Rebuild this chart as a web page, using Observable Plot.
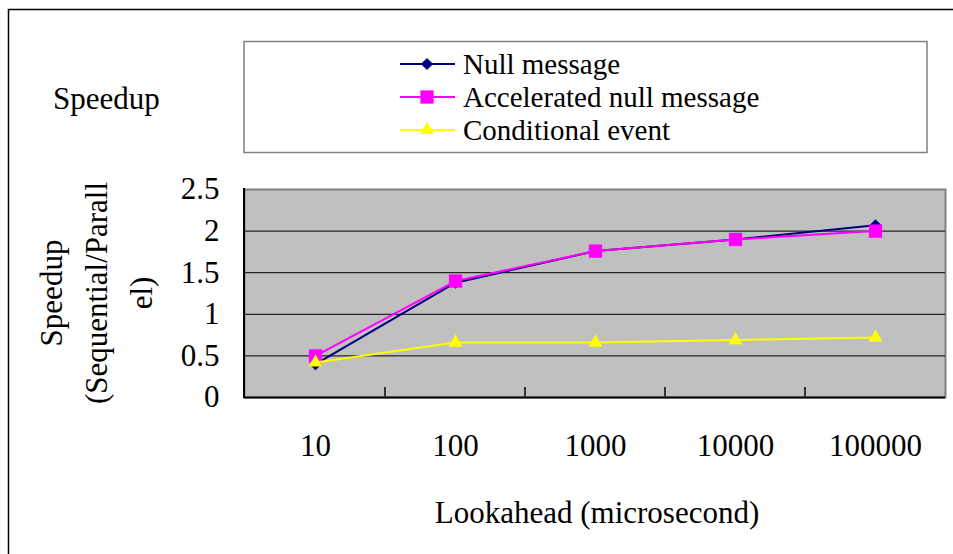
<!DOCTYPE html>
<html>
<head>
<meta charset="utf-8">
<script src="https://cdn.jsdelivr.net/npm/d3@7"></script>
<script src="https://cdn.jsdelivr.net/npm/@observablehq/plot@0.6"></script>
<style>
  body { margin: 0; background: #fff; }
  svg { display: block; }
</style>
</head>
<body>
<div id="chart"></div>
<script>
// Lookahead values (microseconds) shown on the category axis
const categories = ["10", "100", "1000", "10000", "100000"];

// Speedup (sequential / parallel) for each protocol
const nullMessage = [0.40, 1.38, 1.76, 1.90, 2.07];
const acceleratedNullMessage = [0.50, 1.40, 1.76, 1.90, 2.00];
const conditionalEvent = [0.42, 0.66, 0.66, 0.69, 0.72];

const seriesNames = ["Null message", "Accelerated null message", "Conditional event"];
const seriesValues = [nullMessage, acceleratedNullMessage, conditionalEvent];
const seriesColors = ["#000080", "#ff00ff", "#ffff00"];
const seriesSymbols = ["diamond2", "square", "triangle"];
const seriesSizes = [5.5, 7.5, 5.2];

const yTicks = [0, 0.5, 1, 1.5, 2, 2.5];

const chartTitle = "Speedup";
const yTitleLines = ["Speedup", "(Sequential/Parall", "el)"];
const xTitle = "Lookahead (microsecond)";

const FONT = "'Liberation Serif', 'Times New Roman', serif";
const FS = 31;
const LEGEND_FS = 29;

const rows = seriesNames.map((name, s) =>
  categories.map((c, i) => ({series: name, lookahead: c, speedup: seriesValues[s][i]}))
);

const seriesMarks = rows.flatMap((data, s) => [
  Plot.line(data, {x: "lookahead", y: "speedup", stroke: seriesColors[s], strokeWidth: 2}),
  Plot.dot(data, {x: "lookahead", y: "speedup", symbol: seriesSymbols[s], r: seriesSizes[s],
                  fill: seriesColors[s], stroke: "none"})
]);

const plot = Plot.plot({
  width: 953,
  height: 554,
  marginLeft: 244,
  marginRight: 8,
  marginTop: 189,
  marginBottom: 157,
  style: {fontFamily: FONT, fontSize: FS + "px", background: "white", color: "black", overflow: "visible"},
  x: {type: "point", domain: categories, padding: 0.5, label: null},
  y: {domain: [0, 2.5], label: null},
  marks: [
    Plot.frame({fill: "#c0c0c0", stroke: "#808080", strokeWidth: 2}),
    Plot.gridY(yTicks.slice(1, -1), {stroke: "#000", strokeOpacity: 1, strokeWidth: 1}),
    Plot.ruleY([0], {stroke: "#000", strokeWidth: 2}),
    Plot.axisY(yTicks, {tickSize: 0, tickPadding: 25, label: null, fontSize: FS, tickFormat: d => String(d)}),
    Plot.axisX(categories, {tickSize: 0, tickPadding: 36, label: null, fontSize: FS}),
    ...seriesMarks
  ]
});

document.getElementById("chart").appendChild(plot);

// Extra decorations built on the plot's own scales
const svg = d3.select(plot);
const xs = plot.scale("x");
const ys = plot.scale("y");
const y0 = ys.apply(0), y1 = ys.apply(2.5);
const left = 244;

// left value axis line
svg.append("line")
  .attr("x1", left).attr("x2", left).attr("y1", y1 - 1).attr("y2", y0 + 1)
  .attr("stroke", "#000").attr("stroke-width", 2);

// category separators along the bottom axis
const px = categories.map(c => xs.apply(c));
d3.pairs(px).forEach(([a, b]) => {
  const m = (a + b) / 2;
  svg.append("line")
    .attr("x1", m).attr("x2", m).attr("y1", y0).attr("y2", y0 - 10)
    .attr("stroke", "#333").attr("stroke-width", 2);
});

// outer chart border
svg.append("rect")
  .attr("x", 8.5).attr("y", 9.5).attr("width", 1000).attr("height", 600)
  .attr("fill", "none").attr("stroke", "#000").attr("stroke-width", 1.5);

// chart title
svg.append("text")
  .attr("x", 53).attr("y", 109)
  .attr("text-anchor", "start")
  .attr("font-family", FONT).attr("font-size", FS)
  .text(chartTitle);

// y-axis title (wrapped over three lines)
const yTitleBaselines = [62, 107, 152];
yTitleLines.forEach((line, i) => {
  svg.append("text")
    .attr("transform", `translate(${yTitleBaselines[i]},${(y0 + y1) / 2}) rotate(-90)`)
    .attr("text-anchor", "middle")
    .attr("font-family", FONT).attr("font-size", FS)
    .text(line);
});

// x-axis title
svg.append("text")
  .attr("x", (px[0] + px[px.length - 1]) / 2 + 2).attr("y", 523)
  .attr("text-anchor", "middle")
  .attr("font-family", FONT).attr("font-size", FS)
  .text(xTitle);

// legend
const legend = svg.append("g");
legend.append("rect")
  .attr("x", 244).attr("y", 41.5).attr("width", 683).attr("height", 111)
  .attr("fill", "white").attr("stroke", "#808080").attr("stroke-width", 1.5);
const legendRows = [64, 97, 130];
seriesNames.forEach((name, s) => {
  const cy = legendRows[s];
  legend.append("line")
    .attr("x1", 400).attr("x2", 455).attr("y1", cy).attr("y2", cy)
    .attr("stroke", seriesColors[s]).attr("stroke-width", 2);
  const symbolType = {diamond2: d3.symbolDiamond2, square: d3.symbolSquare, triangle: d3.symbolTriangle}[seriesSymbols[s]];
  legend.append("path")
    .attr("transform", `translate(427,${cy})`)
    .attr("d", d3.symbol(symbolType, Math.PI * seriesSizes[s] * seriesSizes[s])())
    .attr("fill", seriesColors[s]);
  legend.append("text")
    .attr("x", 463).attr("y", cy + 10)
    .attr("text-anchor", "start")
    .attr("font-family", FONT).attr("font-size", LEGEND_FS)
    .text(name);
});
</script>
</body>
</html>
